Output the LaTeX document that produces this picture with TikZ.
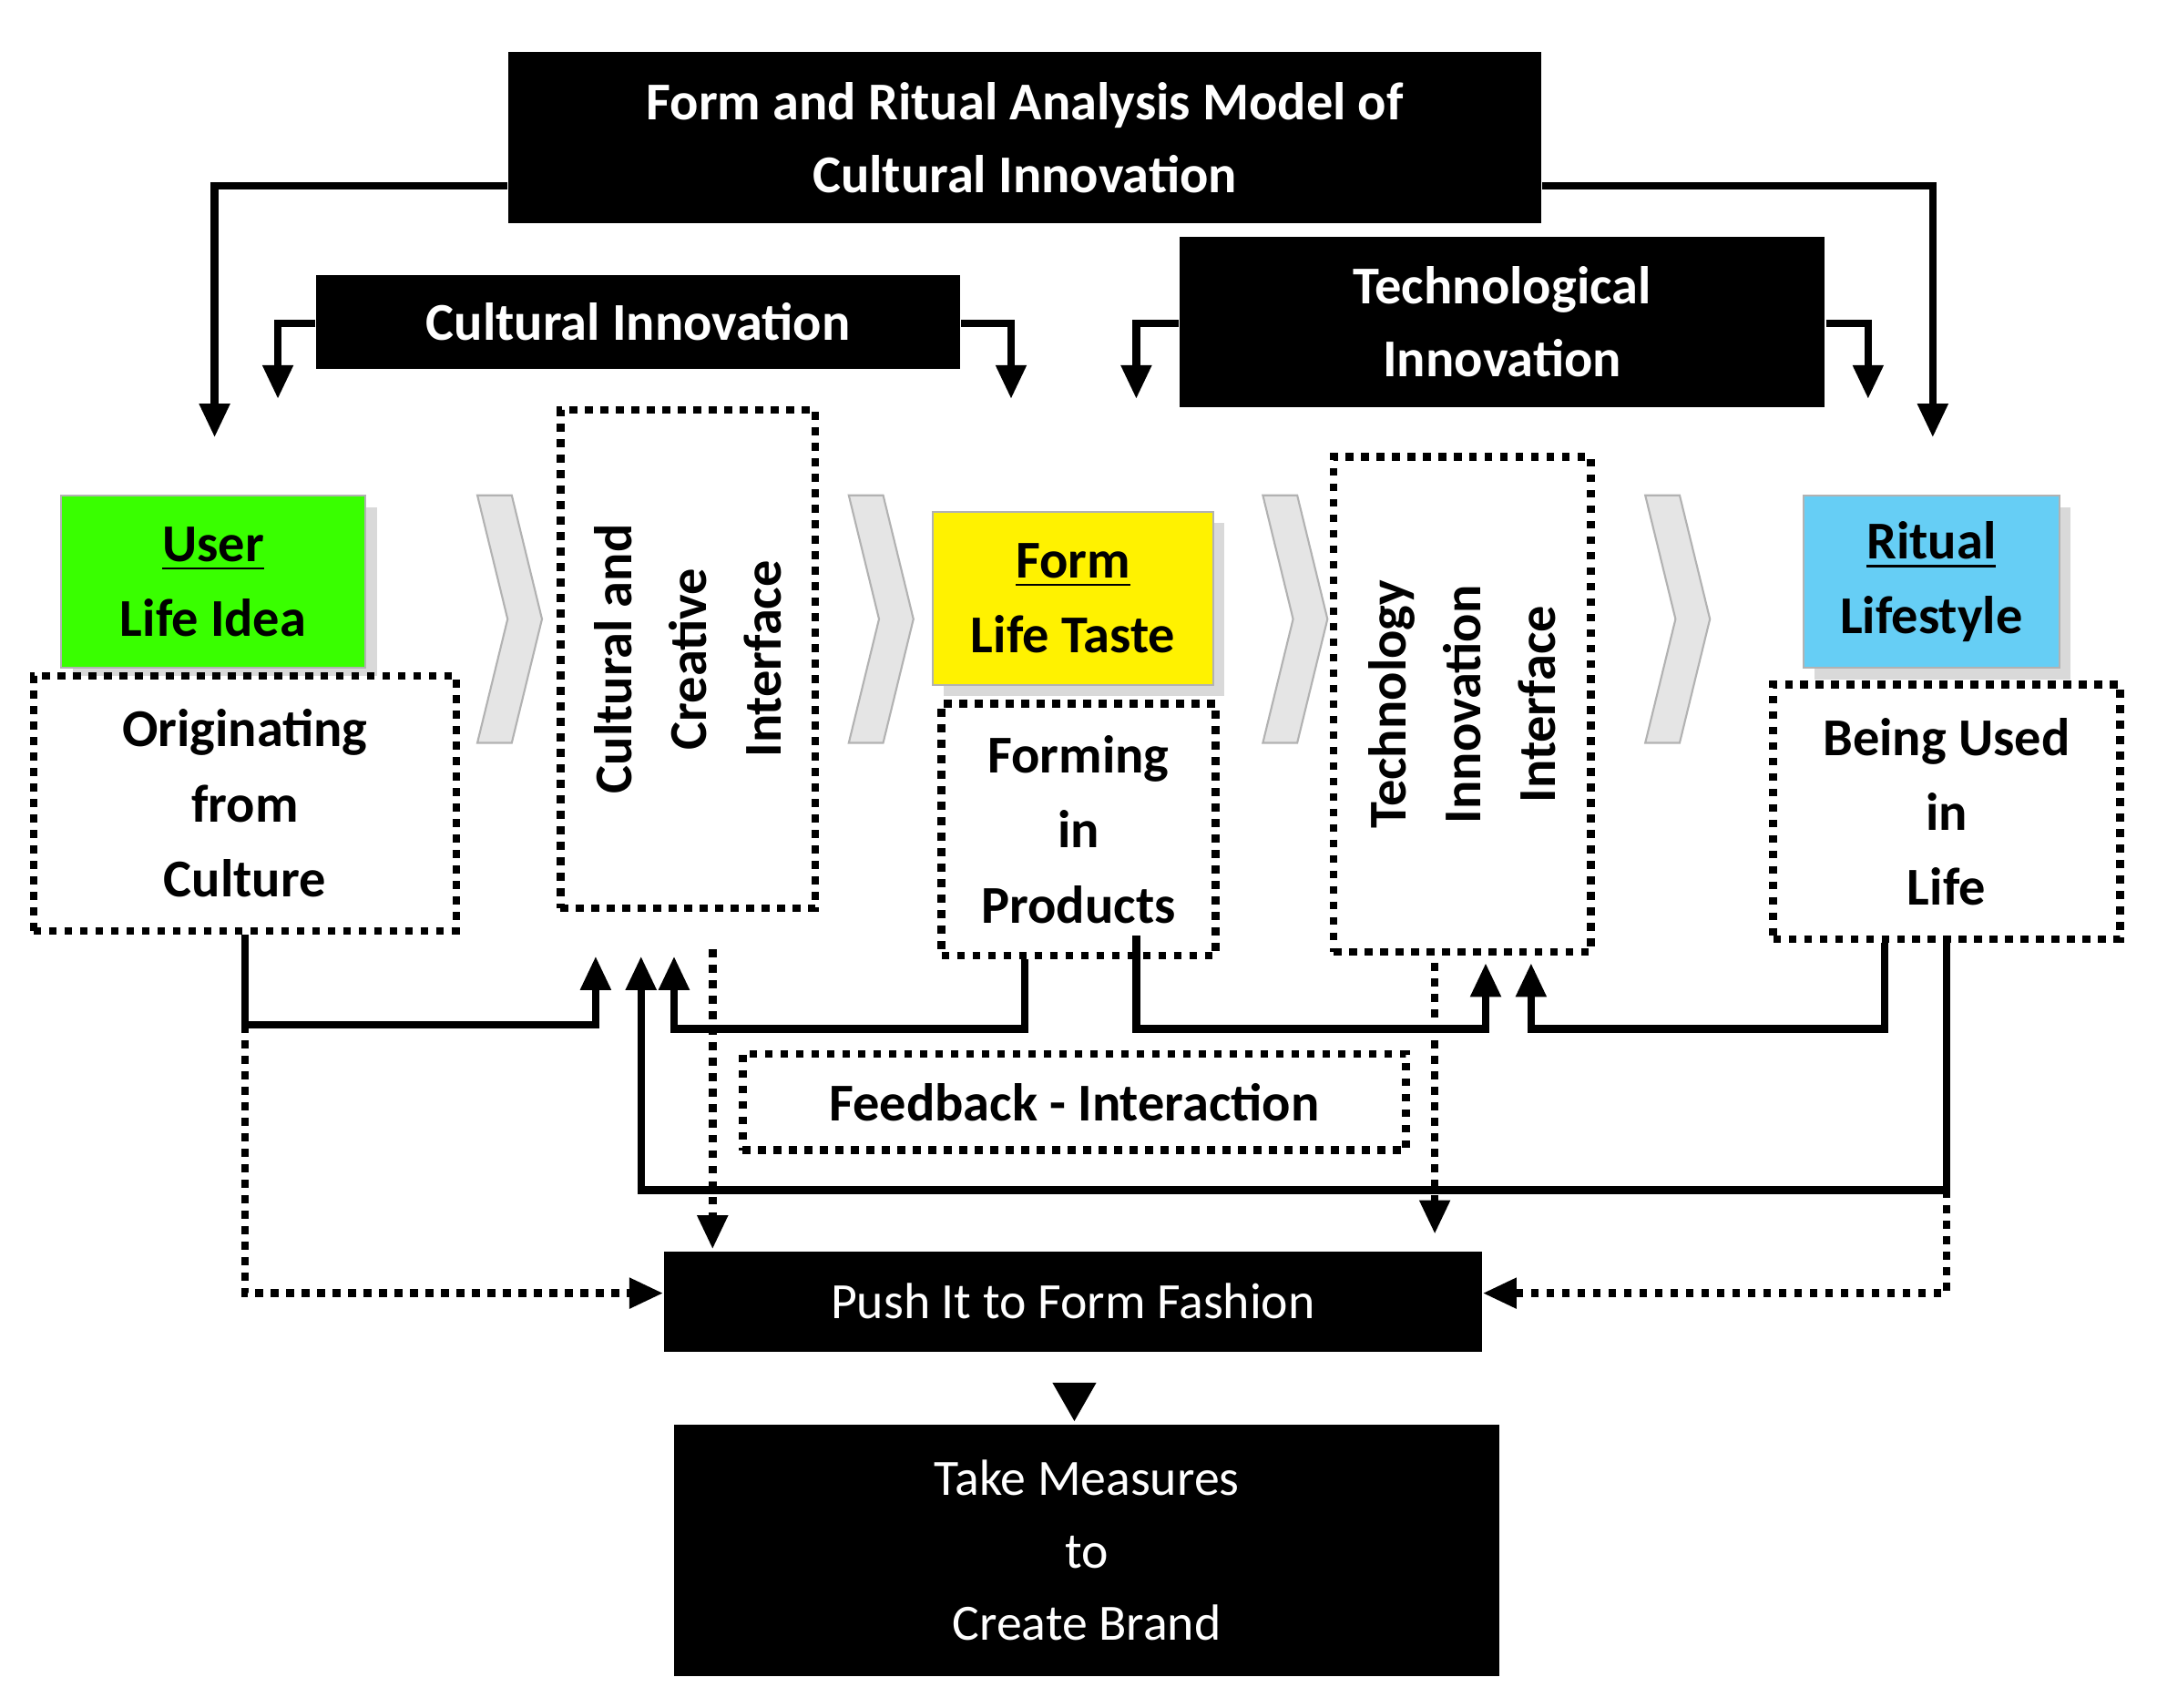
\documentclass[tikz,border=0pt]{standalone}
\usepackage{fontspec}
\setmainfont{Carlito}
\usetikzlibrary{arrows.meta}
\begin{document}
\begin{tikzpicture}[x=0.01cm,y=-0.01cm,
 blk/.style={fill=black,text=white,font=\fontsize{11}{15}\selectfont\bfseries,align=center,inner sep=0},
 blkr/.style={fill=black,text=white,font=\fontsize{10.5}{15}\selectfont,align=center,inner sep=0},
 dot/.style={draw,line width=1.6pt,dash pattern=on 1.6pt off 1.6pt,fill=white,font=\fontsize{11}{15.5}\selectfont\bfseries,align=center,inner sep=0},
 col/.style={draw=gray!60,fill=#1,font=\fontsize{11}{15.5}\selectfont\bfseries,align=center,inner sep=0},
 ln/.style={line width=1.6pt},
 ar/.style={ln,-{Triangle[length=7pt,width=6pt]}},
 da/.style={ar,dash pattern=on 1.6pt off 1.6pt},
 chev/.style={fill=gray!20,draw=gray!60}]
\useasboundingbox (0,0) rectangle (1568,1241);
% boxes
\node[blk,minimum width=7.5cm,minimum height=1.25cm] (title) at (745,100) {Form and Ritual Analysis Model of\\Cultural Innovation};
\node[blk,minimum width=4.68cm,minimum height=0.68cm] (ci) at (464,234) {Cultural Innovation};
\node[blk,minimum width=4.69cm,minimum height=1.24cm] (ti) at (1092,234) {Technological\\Innovation};
\fill[gray!30] (53,369) rectangle (274,494);
\node[col=green!70!lime,minimum width=2.21cm,minimum height=1.25cm] (user) at (155,423) {\underline{User}\\Life Idea};
\node[dot,minimum width=3.07cm,minimum height=1.85cm] (orig) at (178,584) {Originating\\from\\Culture};
\node[dot,minimum width=1.85cm,minimum height=3.62cm] (cci) at (500,479) {};
\node[rotate=90,font=\fontsize{11}{15.5}\selectfont\bfseries,align=center] at (500,479) {Cultural and\\Creative\\Interface};
\fill[gray!30] (686,380) rectangle (890,506);
\node[col=yellow,minimum width=2.04cm,minimum height=1.26cm] (form) at (780,435) {\underline{Form}\\Life Taste};
\node[dot,minimum width=1.99cm,minimum height=1.83cm] (fip) at (784,603) {Forming\\in\\Products};
\node[dot,minimum width=1.87cm,minimum height=3.6cm] (tii) at (1063,512) {};
\node[rotate=90,font=\fontsize{11}{15.5}\selectfont\bfseries,align=center] at (1063,512) {Technology\\Innovation\\Interface};
\fill[gray!30] (1319,369) rectangle (1505,494);
\node[col=cyan!60,minimum width=1.86cm,minimum height=1.25cm] (rit) at (1404,423) {\underline{Ritual}\\Lifestyle};
\node[dot,minimum width=2.52cm,minimum height=1.85cm] (buil) at (1415,590) {Being Used\\in\\Life};
\node[dot,minimum width=4.82cm,minimum height=0.7cm] (fb) at (781,801) {Feedback - Interaction};
\node[blkr,minimum width=5.94cm,minimum height=0.73cm] (push) at (780,946) {Push It to Form Fashion};
\node[blkr,minimum width=5.99cm,minimum height=1.83cm] (take) at (790,1127) {Take Measures\\to\\Create Brand};
\fill (765,1005) -- (797,1005) -- (781,1033) -- cycle;
% chevrons
\foreach \x in {347,617,918,1196}
 \draw[chev] (\x,360) -- (\x+25,360) -- (\x+47,450) -- (\x+25,540) -- (\x,540) -- (\x+22,450) -- cycle;
% top arrows
\coordinate (a1) at (156,318); \coordinate (a2) at (1405,318);
\draw[ar] (title.west|-0,135) -| (a1);
\draw[ar] (title.east|-0,135) -| (a2);
\coordinate (b1) at (202,290); \coordinate (b2) at (735,290);
\coordinate (c1) at (826,290); \coordinate (c2) at (1358,290);
\draw[ar] (ci.west|-0,235) -| (b1);
\draw[ar] (ci.east|-0,235) -| (b2);
\draw[ar] (ti.west|-0,235) -| (c1);
\draw[ar] (ti.east|-0,235) -| (c2);
% bottom feedback
\coordinate (o1) at (178,745); \coordinate (f1) at (745,748); \coordinate (f2) at (826,748);
\coordinate (r1) at (1370,748); \coordinate (r2) at (1415,865);
\draw[ar] (orig.south-|o1) -- (o1) -| (433,695);
\draw[ar] (fip.south-|f1) -- (f1) -| (490,695);
\draw[ar] (826,680) -- (f2) -| (1080,700);
\draw[ar] (buil.south-|r1) -- (r1) -| (1113,700);
\draw[ar] (buil.south-|r2) -- (r2) -| (466,695);
% dotted
\draw[da] (o1) |- (push.west|-0,940);
\draw[da] (r2) |- (push.east|-0,940);
\draw[da] (518,690) -- (518,908);
\draw[da] (1043,700) -- (1043,897);
\end{tikzpicture}
\end{document}
